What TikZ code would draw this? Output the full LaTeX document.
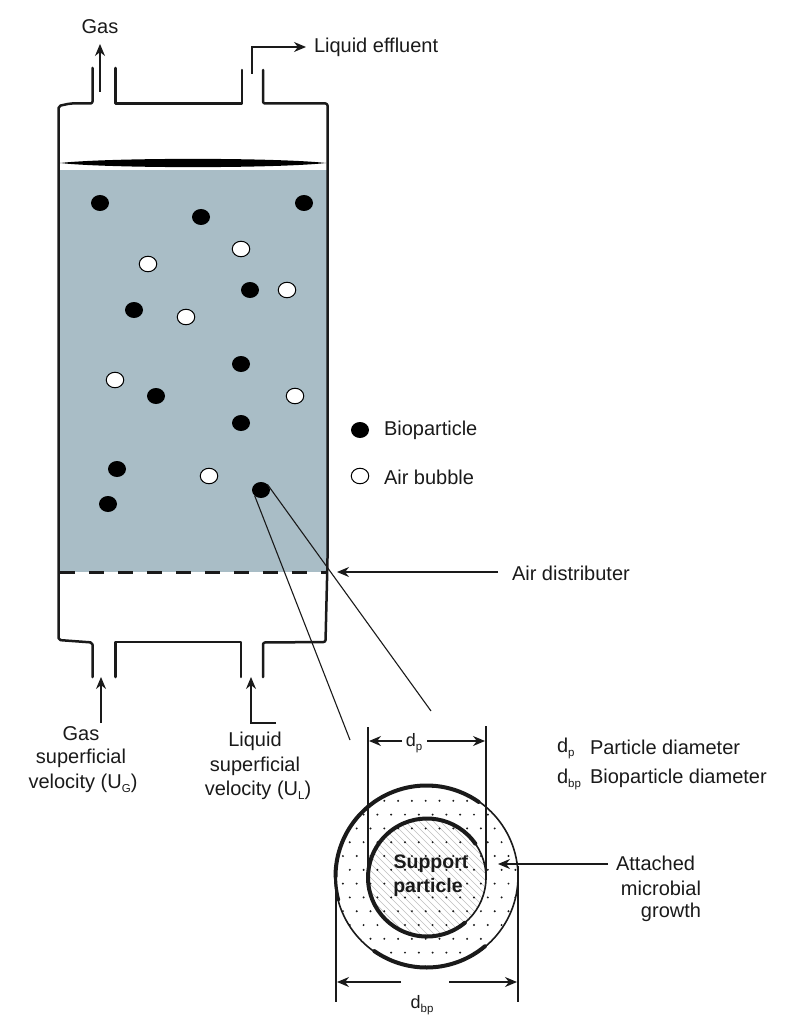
\documentclass[tikz,border=0pt]{standalone}
\usepackage{fontspec}
\setmainfont{Liberation Sans}
\usetikzlibrary{arrows.meta,shapes.geometric,calc}
\definecolor{liquid}{HTML}{A9BDC6}
\definecolor{ink}{HTML}{1A1A1A}
\newcommand{\sbs}[1]{\raisebox{-4pt}{\fontsize{11.5}{12}\selectfont #1}}
\tikzset{
  x=1pt,y=-1pt,
  wall/.style={draw=ink,line width=2.5pt,line join=round,line cap=round},
  arr/.style={draw=ink,line width=1.2pt,-{Stealth[length=12pt,width=10pt]}},
  leader/.style={draw=ink,line width=1.1pt},
  dim/.style={draw=ink,line width=2pt},
  bio/.style={shape=ellipse,fill=black,minimum width=18pt,minimum height=16pt,inner sep=0pt,outer sep=0pt},
  bub/.style={shape=ellipse,fill=white,draw=black,line width=1pt,minimum width=17.5pt,minimum height=15.5pt,inner sep=0pt,outer sep=0pt},
  lab/.style={font=\fontsize{20}{24}\selectfont,text=ink,inner sep=0pt,outer sep=0pt},
  labl/.style={lab,anchor=west},
  bold/.style={font=\bfseries\fontsize{19.5}{24}\selectfont,text=ink,inner sep=0pt},
  thickarc/.style={draw=ink,line width=4pt,line cap=round},
}
\begin{document}
\begin{tikzpicture}
\useasboundingbox (0,0) rectangle (788,1024);
% liquid
\fill[liquid] (58,170) rectangle (327,572);
% gas cap lens
\fill[black] (60,163) .. controls (110,157.5) and (276,157.5) .. (326,163) .. controls (276,168.5) and (110,168.5) .. (60,163) -- cycle;
% vessel
\draw[wall,rounded corners=2pt] (92.5,68) -- (92.5,103.5) -- (70,103.5) -- (58.5,106) -- (58.5,640) -- (92.5,642.5) -- (92.5,677);
\draw[wall] (115.5,68) -- (115.5,103.5) -- (242,103.5) -- (242,70);
\draw[wall,rounded corners=2pt] (263,70) -- (263,103.5) -- (327.5,103.5) -- (327.5,560) -- (325.5,642) -- (263,642.5) -- (263,677);
\draw[wall] (115.5,677) -- (115.5,642) -- (241,642) -- (241,677);
\draw[draw=ink,line width=3pt,dash pattern=on 15pt off 14pt] (60,572) -- (327,572);
% particles
\foreach \n/\x/\y in {a/100/203,b/201/217,c/304/203,d/250/290,e/134/310,f/241/364,g/156/396,h/241/423,i/117/469,j/108/504,k/261/490,lb/360/430}
  \node[bio] (bio\n) at (\x,\y) {};
\foreach \n/\x/\y in {a/148/264,b/241/249,c/287/290,d/186/317,e/115/380,f/295/396,g/209/476,lb/360/476}
  \node[bub] (bub\n) at (\x,\y) {};
% leaders
\coordinate (leadA) at (350,740);
\coordinate (leadB) at (431,711);
\draw[leader] (biok.south west) -- (leadA);
\draw[leader] (biok.north east) -- (leadB);
% top/bottom arrows
\node[lab] (gas) at (100,27) {Gas};
\node[labl] (eff) at (314,47.5) {Liquid effluent};
\coordinate (gasS) at (100,92);
\coordinate (gasE) at (100,44);
\draw[arr] (gasS) -- (gasE);
\coordinate (effS) at (252,74);
\coordinate (effE) at (306,47);
\draw[arr] (effS) |- (effE);
\coordinate (ugS) at (101,723);
\coordinate (ugE) at (101,677);
\draw[arr] (ugS) -- (ugE);
\coordinate (ulS) at (276,723);
\coordinate (ulE) at (251,677);
\draw[arr] (ulS) -| (ulE);
\node[lab] (ug1) at (81,734) {Gas};
\node[lab] (ug2) at (81,758) {superficial};
\node[lab] (ug3) at (83,783) {velocity (U\sbs{G})};
\node[lab] (ul1) at (255,741) {Liquid};
\node[lab] (ul2) at (255,766) {superficial};
\node[lab] (ul3) at (258,790) {velocity (U\sbs{L})};
% legend
\node[labl] (lbio) at (384,430) {Bioparticle};
\node[labl] (lbub) at (384,477) {Air bubble};
% air distributer
\node[labl] (air) at (512,573) {Air distributer};
\coordinate (airE) at (337,572);
\draw[arr] (air.west)+(-14,-1) -- (airE);
% detail
\begin{scope}
  \clip (426.5,876.5) circle (91.5);
  \fill[white] (426.5,876.5) circle (91.5);
  \begin{scope}
    \clip (427,877.5) circle (59);
    \foreach \d in {-120,-113,...,120}
      \draw[gray!50,line width=.7pt] (427+\d-70,807) -- (427+\d+70,947);
  \end{scope}
  \foreach \i in {0,...,13}
    \foreach \j in {0,...,13}
      \fill[ink] ({336+\i*13.8+mod(\j,2)*6.9},{787+\j*13.8}) circle (1.1);
\end{scope}
\coordinate (oc) at (426.5,876.5);
\coordinate (ic) at (427,877.5);
\draw[draw=ink,line width=1.6pt] (oc) circle (91.5);
% with y pointing down, the angles below are measured clockwise on the page
\draw[thickarc] ($(oc)+(-55:91)$) arc[start angle=-55,end angle=-180,radius=91];
\draw[thickarc,line width=3.2pt] ($(oc)+(180:91)$) arc[start angle=180,end angle=165,radius=91];
\draw[thickarc] ($(oc)+(50:91)$) arc[start angle=50,end angle=125,radius=91];
\draw[draw=ink,line width=1.6pt] (ic) circle (59);
\draw[thickarc] ($(ic)+(-35:59)$) arc[start angle=-35,end angle=-180,radius=59];
\draw[thickarc] ($(ic)+(180:59)$) arc[start angle=180,end angle=50,radius=59];
\coordinate (pl1) at (368,727); \coordinate (pl2) at (368,877);
\coordinate (pr1) at (486,726); \coordinate (pr2) at (486,877);
\coordinate (bl1) at (335.5,876); \coordinate (bl2) at (335.5,1002);
\coordinate (br1) at (518,866); \coordinate (br2) at (518,1002);
\draw[dim] (pl1) -- (pl2);
\draw[dim] (pr1) -- (pr2);
\draw[dim] (bl1) -- (bl2);
\draw[dim] (br1) -- (br2);
\node[lab,font=\fontsize{18}{20}\selectfont] (dp) at (414,743) {d\sbs{p}};
\node[lab,font=\fontsize{18}{20}\selectfont] (dbp) at (422,1005) {d\sbs{bp}};
\draw[arr] (402,741) -- (369,741);
\draw[arr] (427,741) -- (485,741);
\draw[arr] (401,982) -- (337,982);
\draw[arr] (449,982) -- (517,982);
\node[bold] (sp1) at (431,864) {Support};
\node[bold] (sp2) at (428,887) {particle};
% right labels
\node[labl] (dpl) at (557,748) {d\sbs{p}};
\node[labl] (dpt) at (590,747) {Particle diameter};
\node[labl] (dbl) at (557,779) {d\sbs{bp}};
\node[labl] (dbt) at (590,778) {Bioparticle diameter};
\node[lab,anchor=east] (m1) at (695,863) {Attached};
\node[lab,anchor=east] (m2) at (701,888) {microbial};
\node[lab,anchor=east] (m3) at (701,912) {growth};
\coordinate (mE) at (498,864);
\draw[arr] (608,864) -- (mE);
\end{tikzpicture}
\end{document}
